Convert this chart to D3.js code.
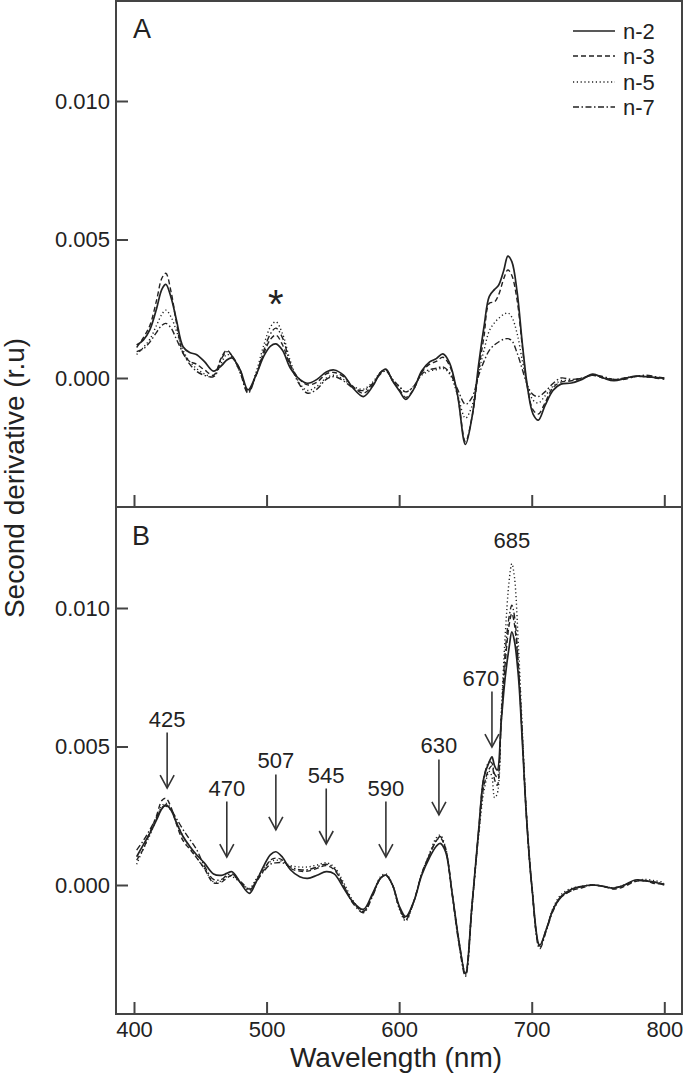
<!DOCTYPE html>
<html><head><meta charset="utf-8">
<script src="https://cdn.jsdelivr.net/npm/d3@7"></script>
<style>
body{margin:0;background:#fff}
svg{display:block}
text{font-family:"Liberation Sans",Arial,Helvetica,sans-serif;fill:#222}
</style>
</head><body>
<svg id="c" width="685" height="1074"></svg>
<script>
// ---------- DATA (second derivative values, in units of 1e-3 r.u.) ----------
const seriesNames = ["n-2", "n-3", "n-5", "n-7"];
const xTicks = [400, 500, 600, 700, 800];
const yTicks = [0, 0.005, 0.010];

const wlA = [402,407,412,417,421,424,428,432,437,442,447,453,460,466,470,474,480,486,492,498,
  503,507,512,518,525,531,538,545,551,558,565,573,580,586,590,595,600,605,611,617,
  623,628,633,638,644,650,655,660,664,668,672,675,679,682,685,689,693,697,701,705,
  710,716,722,730,738,746,754,762,770,778,786,793,800];
const a_n2 = [1.19,1.37,1.75,2.5,3.2,3.38,2.9,2.1,1.13,0.92,0.85,0.6,0.25,0.45,0.65,0.72,0.3,-0.43,0.1,0.8,
  1.15,1.23,1.0,0.35,-0.05,-0.19,-0.05,0.22,0.29,0.1,-0.35,-0.67,-0.3,0.2,0.32,-0.1,-0.45,-0.77,-0.4,0.25,
  0.58,0.7,0.87,0.55,-0.6,-2.4,-1.4,0.5,1.85,2.95,3.2,3.35,3.9,4.4,4.2,3.1,1.2,-0.4,-1.3,-1.52,
  -1.0,-0.45,-0.22,-0.18,-0.05,0.14,0.0,-0.1,-0.02,0.07,0.05,0.02,-0.01];
const a_n3 = [1.1,1.45,1.9,2.8,3.6,3.78,3.1,2.0,0.9,0.6,0.5,0.3,0.1,0.75,1.0,0.8,0.3,-0.5,0.1,0.9,
  1.4,1.55,1.2,0.45,-0.05,-0.25,-0.15,0.15,0.2,0.05,-0.3,-0.55,-0.25,0.2,0.3,-0.1,-0.4,-0.7,-0.4,0.2,
  0.5,0.6,0.75,0.45,-0.6,-2.3,-1.4,0.3,1.5,2.7,2.75,3.0,3.6,3.9,3.7,2.8,1.1,-0.4,-1.15,-1.3,
  -0.9,-0.35,-0.15,-0.1,0.0,0.1,0.0,-0.05,-0.05,0.05,0.05,0.0,-0.05];
const a_n5 = [0.85,1.1,1.4,1.9,2.3,2.45,2.2,1.7,1.0,0.6,0.35,0.15,0.05,0.55,0.85,0.75,0.2,-0.5,0.2,1.2,
  1.85,2.03,1.6,0.6,-0.2,-0.45,-0.3,0.0,0.1,-0.05,-0.3,-0.4,-0.15,0.2,0.28,-0.05,-0.3,-0.5,-0.3,0.1,
  0.25,0.3,0.35,0.15,-0.6,-1.45,-1.0,0.2,1.0,1.7,2.0,2.15,2.3,2.35,2.2,1.6,0.6,-0.3,-0.8,-0.9,
  -0.65,-0.3,-0.1,-0.1,0.0,0.1,0.02,-0.05,0.0,0.05,0.05,0.02,0.0];
const a_n7 = [0.95,1.05,1.3,1.65,1.9,1.97,1.8,1.4,0.9,0.5,0.25,0.1,0.05,0.7,0.95,0.8,0.2,-0.55,0.1,1.0,
  1.6,1.8,1.45,0.5,-0.25,-0.55,-0.4,-0.05,0.05,-0.1,-0.35,-0.45,-0.2,0.15,0.25,-0.05,-0.3,-0.5,-0.3,0.15,
  0.3,0.35,0.4,0.2,-0.4,-0.95,-0.7,0.1,0.6,1.0,1.2,1.3,1.4,1.42,1.35,0.9,0.3,-0.3,-0.6,-0.67,
  -0.5,-0.2,0.0,-0.05,0.0,0.1,0.05,-0.05,0.0,0.05,0.1,0.05,0.0];

const wlB = [402,407,412,417,421,424,428,432,437,442,447,453,460,466,470,474,480,487,492,498,
  503,507,512,518,525,531,538,545,551,558,565,573,580,586,590,595,600,605,611,617,
  623,628,631,635,640,645,650,655,660,664,668,670,672,674,677,680,683,685,687,690,
  693,696,700,706,711,716,722,730,738,746,754,762,770,778,786,793,800];
const b_n2 = [1.02,1.45,1.87,2.35,2.75,2.89,2.7,2.25,1.75,1.4,1.1,0.8,0.4,0.35,0.42,0.48,0.1,-0.3,0.1,0.7,
  1.1,1.2,1.0,0.55,0.3,0.24,0.35,0.48,0.4,-0.1,-0.6,-0.88,-0.3,0.25,0.36,0.0,-0.75,-1.14,-0.6,0.35,
  1.0,1.4,1.5,1.2,-0.3,-2.0,-3.2,-0.7,2.0,3.9,4.45,4.63,4.3,4.15,5.9,7.5,8.6,9.14,8.8,7.5,
  5.1,2.5,0.0,-2.17,-1.6,-0.9,-0.42,-0.15,-0.05,0.0,-0.05,-0.12,0.0,0.18,0.15,0.1,0.0];
const b_n3 = [0.9,1.3,1.9,2.5,3.05,3.13,2.8,2.2,1.6,1.3,1.0,0.6,0.08,0.1,0.25,0.35,0.15,-0.15,0.1,0.55,
  0.9,0.97,0.9,0.6,0.5,0.5,0.6,0.7,0.55,0.0,-0.6,-0.95,-0.35,0.25,0.35,0.0,-0.8,-1.2,-0.6,0.4,
  1.1,1.6,1.7,1.3,-0.3,-2.0,-3.2,-0.7,1.9,3.6,4.2,4.3,3.8,3.6,5.9,8.0,9.4,9.8,9.4,7.8,
  5.2,2.5,0.0,-2.2,-1.6,-0.9,-0.45,-0.2,-0.1,0.0,-0.05,-0.15,-0.05,0.12,0.15,0.05,0.05];
const b_n5 = [0.75,1.3,1.8,2.4,2.85,2.95,2.75,2.3,1.75,1.35,1.0,0.6,0.12,0.15,0.3,0.3,0.1,-0.12,0.2,0.6,
  0.85,0.9,0.85,0.7,0.65,0.65,0.72,0.8,0.65,0.1,-0.55,-0.95,-0.35,0.3,0.4,0.0,-0.85,-1.3,-0.6,0.4,
  1.15,1.7,1.8,1.35,-0.3,-2.0,-3.25,-0.7,1.8,3.4,4.1,3.9,3.15,3.3,6.2,9.0,11.0,11.6,11.1,8.6,
  5.5,2.6,0.0,-2.25,-1.6,-0.85,-0.35,-0.12,-0.05,0.0,-0.05,-0.1,0.0,0.15,0.2,0.15,0.1];
const b_n7 = [1.26,1.6,2.0,2.45,2.8,2.85,2.7,2.4,2.0,1.65,1.3,0.7,0.2,0.2,0.35,0.4,0.1,-0.2,0.15,0.5,
  0.75,0.8,0.8,0.65,0.55,0.55,0.65,0.75,0.6,0.0,-0.65,-1.0,-0.4,0.25,0.35,0.0,-0.8,-1.25,-0.6,0.4,
  1.1,1.6,1.75,1.3,-0.35,-2.1,-3.3,-0.8,2.0,3.9,4.45,4.4,4.0,3.9,6.0,8.4,9.7,10.1,9.7,7.9,
  5.3,2.5,0.0,-2.3,-1.65,-0.95,-0.45,-0.2,-0.05,0.0,-0.05,-0.1,0.0,0.15,0.15,0.1,0.05];

// Annotated bands in panel B: wavelength, label, arrow-tip value (1e-3 r.u.)
const annWl    = [425, 470, 507, 545, 590, 630, 670, 685];
const annLabel = ["425","470","507","545","590","630","670","685"];
const annTip   = [3.5, 1.01, 1.99, 1.48, 1.01, 2.53, 4.98, null];
const annLabelOnly = 12.17; // value level of the 685 label (no arrow)
const starWl = 507, starLevel = 2.17; // asterisk over the 507 nm band in panel A

// ---------- LAYOUT ----------
const svg = d3.select("#c");
const L = 116, R = 682, T = 1, MID = 507, B = 1014;
const x = d3.scaleLinear().domain([400, 800]).range([134, 664.3]);
const PX_PER = 27700; // px per unit
const yA = d3.scaleLinear().domain([-(MID - 378) / PX_PER, 378 / PX_PER]).range([MID, 0]);
const yB = d3.scaleLinear().domain([-(B - 885) / PX_PER, (885 - MID) / PX_PER]).range([B, MID]);

const styles = {
  "n-2": {dash: null, w: 1.7},
  "n-3": {dash: "5,3", w: 1.4},
  "n-5": {dash: "1.2,2.6", w: 1.4},
  "n-7": {dash: "6,2.5,1.5,2.5", w: 1.4}
};
const ink = "#222", axisInk = "#444";
const FONT = '"Liberation Sans",Arial,sans-serif';

function drawPanel(wl, arrs, y) {
  const g = svg.append("g");
  const line = d3.line()
    .x((d, i) => x(wl[i]))
    .y(d => y(d * 1e-3))
    .curve(d3.curveCatmullRom.alpha(0.5));
  [3, 2, 1, 0].forEach(k => {
    const s = styles[seriesNames[k]];
    g.append("path").datum(arrs[k])
      .attr("d", line)
      .attr("fill", "none")
      .attr("stroke", ink)
      .attr("stroke-width", s.w)
      .attr("stroke-dasharray", s.dash)
      .attr("stroke-linejoin", "round");
  });
}

drawPanel(wlA, [a_n2, a_n3, a_n5, a_n7], yA);
drawPanel(wlB, [b_n2, b_n3, b_n5, b_n7], yB);

// Axes
function yAxis(y) {
  const ax = svg.append("g").attr("transform", `translate(${L},0)`)
    .call(d3.axisLeft(y).tickValues(yTicks).tickFormat(d3.format(".3f")).tickSizeInner(-12).tickSizeOuter(0).tickPadding(6));
  ax.select(".domain").remove();
  ax.selectAll(".tick line").attr("stroke", axisInk).attr("stroke-width", 2);
  ax.selectAll(".tick text").attr("font-size", 22).attr("fill", ink).attr("font-family", FONT);
}
yAxis(yA); yAxis(yB);

function xAxis(yPos, labels) {
  const ax = svg.append("g").attr("transform", `translate(0,${yPos})`)
    .call(d3.axisBottom(x).tickValues(xTicks).tickFormat(labels ? d3.format("d") : "").tickSizeInner(-12).tickSizeOuter(0).tickPadding(7));
  ax.select(".domain").remove();
  ax.selectAll(".tick line").attr("stroke", axisInk).attr("stroke-width", 2);
  ax.selectAll(".tick text").attr("font-size", 22).attr("fill", ink).attr("font-family", FONT);
}
xAxis(MID, false); xAxis(B, true);

// Frame
svg.append("rect").attr("x", L).attr("y", T).attr("width", R - L).attr("height", B - T)
  .attr("fill", "none").attr("stroke", axisInk).attr("stroke-width", 2);
svg.append("line").attr("x1", L).attr("x2", R).attr("y1", MID).attr("y2", MID)
  .attr("stroke", axisInk).attr("stroke-width", 2);

// Panel letters
svg.append("text").attr("x", 133).attr("y", 38).attr("font-size", 27).text("A");
svg.append("text").attr("x", 132).attr("y", 545).attr("font-size", 27).text("B");

// Axis titles
svg.append("text").attr("x", 396).attr("y", 1067).attr("text-anchor", "middle")
  .attr("font-size", 28).text("Wavelength (nm)");
svg.append("text").attr("transform", `translate(24,478) rotate(-90)`).attr("text-anchor", "middle")
  .attr("font-size", 28).text("Second derivative (r.u)");

// Legend
const legY = [31, 56, 82, 107];
seriesNames.forEach((n, i) => {
  const s = styles[n];
  svg.append("line").attr("x1", 573).attr("x2", 615).attr("y1", legY[i]).attr("y2", legY[i])
    .attr("stroke", ink).attr("stroke-width", s.w).attr("stroke-dasharray", s.dash);
  svg.append("text").attr("x", 623).attr("y", legY[i] + 8).attr("font-size", 22).text(n);
});

// Asterisk in panel A
svg.append("text").attr("x", x(starWl)).attr("y", yA(starLevel * 1e-3)).attr("text-anchor", "middle")
  .attr("font-size", 40).text("*");

// Annotations in panel B
const ARROW = 55.5;
annWl.forEach((w, i) => {
  const ax = x(w);
  if (annTip[i] === null) {
    svg.append("text").attr("x", ax).attr("y", yB(annLabelOnly * 1e-3)).attr("text-anchor", "middle")
      .attr("font-size", 22).text(annLabel[i]);
    return;
  }
  const tip = yB(annTip[i] * 1e-3);
  const top = tip - ARROW;
  const g = svg.append("g").attr("stroke", "#333").attr("stroke-width", 1.6).attr("fill", "none");
  g.append("line").attr("x1", ax).attr("x2", ax).attr("y1", top).attr("y2", tip);
  g.append("path").attr("d", `M${ax - 7},${tip - 13} L${ax},${tip} L${ax + 7},${tip - 13}`);
  const dx = w === 670 ? -11 : 0;
  svg.append("text").attr("x", ax + dx).attr("y", top - 6).attr("text-anchor", "middle")
    .attr("font-size", 22).text(annLabel[i]);
});
</script>
</body></html>
